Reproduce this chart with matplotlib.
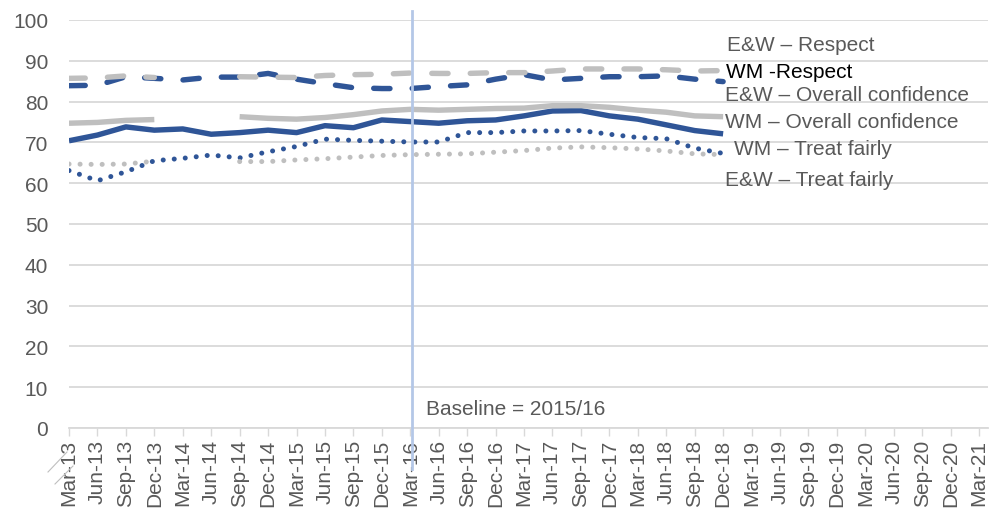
import numpy as np
import matplotlib.pyplot as plt

plt.rcParams['font.family'] = ['Liberation Sans', 'DejaVu Sans']

# quarterly axis, Mar-13 to Mar-21
quarters = ['Mar', 'Jun', 'Sep', 'Dec']
categories = [q + '-' + str(y) for y in range(13, 22) for q in quarters][:33]

nan = np.nan
# West Midlands series (Mar-13 .. Dec-18)
wm_respect = [83.9, 84.0, 86.1, 85.7, 85.3, 86.0, 86.0, 86.9, 85.5, 84.4, 83.4, 83.2,
              83.2, 83.7, 84.1, 85.5, 86.6, 85.3, 85.7, 86.1, 86.1, 86.3, 85.5, 84.9]
wm_confidence = [70.4, 71.8, 73.8, 73.0, 73.3, 72.0, 72.4, 73.0, 72.4, 74.1, 73.6, 75.5,
                 75.1, 74.7, 75.3, 75.5, 76.5, 77.7, 77.8, 76.5, 75.7, 74.3, 72.9, 72.1]
wm_fair = [63.1, 60.6, 62.8, 65.5, 66.1, 66.9, 66.2, 67.7, 69.0, 70.8, 70.5, 70.3,
           70.1, 70.1, 72.4, 72.4, 72.8, 72.8, 72.9, 72.0, 71.2, 70.9, 68.6, 67.3]
# England & Wales series (no data Mar-14, Jun-14)
ew_respect = [85.7, 85.8, 86.3, 85.9, nan, nan, 86.1, 86.0, 85.9, 86.4, 86.6, 86.7,
              87.0, 86.9, 86.9, 87.1, 87.1, 87.5, 88.0, 88.0, 88.0, 87.8, 87.5, 87.6]
ew_confidence = [74.7, 74.9, 75.4, 75.6, nan, nan, 76.3, 75.9, 75.7, 76.1, 76.8, 77.7,
                 78.1, 77.9, 78.1, 78.3, 78.4, 79.0, 79.0, 78.6, 77.9, 77.4, 76.5, 76.3]
ew_fair = [64.7, 64.6, 64.7, 65.4, nan, nan, 65.3, 65.3, 65.7, 66.0, 66.4, 66.8,
           67.0, 67.1, 67.2, 67.6, 68.0, 68.6, 68.9, 68.7, 68.4, 67.9, 67.2, 67.0]

baseline = 'Mar-16'

blue = '#2F5597'
grey = '#BFBFBF'
txt = '#595959'
fs = 15

fig = plt.figure(figsize=(9.93, 5.10), dpi=100)
ax = fig.add_axes([69 / 993, 1 - 429 / 510, (988 - 69) / 993, 408 / 510])

x = np.arange(len(wm_respect))
lw = 3.9
dlw = 3.6
dash = dict(dashes=(3.0, 4.1), dash_capstyle='round')
dot = dict(dashes=(0.01, 2.2), dash_capstyle='round')

ax.plot(x, wm_respect, color=blue, lw=lw, **dash)
ax.plot(x, wm_confidence, color=blue, lw=lw, solid_capstyle='butt')
ax.plot(x, wm_fair, color=blue, lw=dlw, **dot)
ax.plot(x, ew_respect, color=grey, lw=lw, **dash)
ax.plot(x, ew_confidence, color=grey, lw=lw, solid_capstyle='butt')
ax.plot(x, ew_fair, color=grey, lw=dlw, **dot)

# baseline marker
bx = categories.index(baseline)
ax.axvline(bx + 0.05, ymin=-0.1, ymax=1.022, color='#B4C7E7', lw=2, clip_on=False, zorder=5)
ax.text(bx + 0.55, 4.9, 'Baseline = 2015/16', color=txt, fontsize=fs, va='center')

# series labels at line ends
labels = [('E&W \u2013 Respect', 23.15, 94.0, txt),
          ('WM -Respect', 23.1, 87.5, 'black'),
          ('E&W \u2013 Overall confidence', 23.05, 81.7, txt),
          ('WM \u2013 Overall confidence', 23.05, 75.0, txt),
          ('WM \u2013 Treat fairly', 23.4, 68.6, txt),
          ('E&W \u2013 Treat fairly', 23.05, 60.9, txt)]
for s, lx, ly, c in labels:
    ax.text(lx, ly, s, color=c, fontsize=fs, va='center', ha='left')

ax.set_ylim(0, 100)
ax.set_xlim(0, (988 - 69) / 28.44)
ax.set_yticks(range(0, 101, 10))
ax.set_xticks(range(len(categories)))
ax.set_xticklabels(categories, rotation=90)
ax.tick_params(axis='y', length=0, labelsize=fs, labelcolor=txt, pad=15)
ax.tick_params(axis='x', length=6, width=1, color='#D9D9D9', labelsize=fs,
               labelcolor=txt, pad=2)
ax.grid(axis='y', color='#D9D9D9', lw=1.3)
ax.set_axisbelow(True)
for side in ['top', 'right', 'left']:
    ax.spines[side].set_visible(False)
ax.spines['bottom'].set_color('#D9D9D9')
ax.spines['bottom'].set_linewidth(1.3)

# axis break marks
for (x0, y0, x1, y1) in [(48, 473, 67, 453), (55, 485, 73, 467)]:
    fig.add_artist(plt.Line2D([x0 / 993, x1 / 993], [1 - y0 / 510, 1 - y1 / 510],
                              color='#BFBFBF', lw=0.8))

fig.savefig('out.png', dpi=100)
